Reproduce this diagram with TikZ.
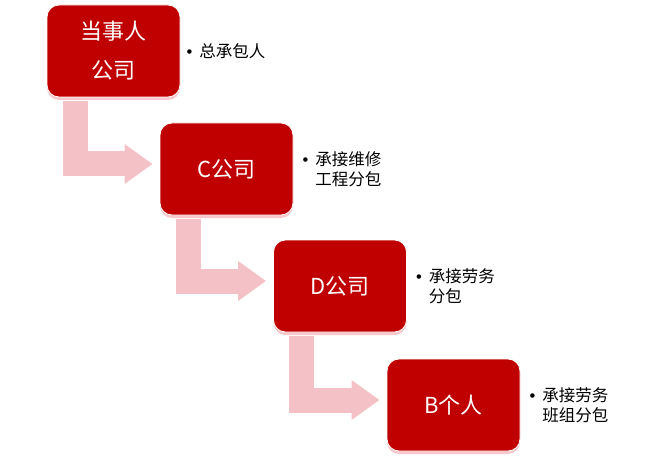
\documentclass[tikz,border=0pt]{standalone}
\usepackage{fontspec}
\setmainfont{Noto Sans CJK SC}
\newfontfamily\dotfont{Liberation Sans}
\usepackage{xcolor}
\usepackage{tikz}
\usetikzlibrary{arrows.meta,positioning,shadows}

\definecolor{boxred}{HTML}{C00000}
\definecolor{arrowpink}{HTML}{F4C1C6}
\definecolor{glowpink}{HTML}{F29AA3}

\newcommand{\dutydot}{{\dotfont\textbullet}\hspace{7pt}}

\tikzset{
  party/.style={draw=white, line width=0.8pt, fill=boxred, rounded corners=12pt,
    minimum width=133pt, minimum height=92pt, align=center, text=white,
    font=\fontsize{22}{39}\selectfont,
    drop shadow={shadow xshift=0pt, shadow yshift=-3pt, fill=glowpink, opacity=0.55}},
  duty/.style={align=left, inner sep=0pt, font=\fontsize{16.5}{20}\selectfont},
  hand/.style={draw=arrowpink, line width=25pt, line join=miter,
    -{Triangle[width=38pt 0, length=28pt 0]}}
}

\begin{document}
\begin{tikzpicture}[x=1pt, y=1pt]
  \useasboundingbox (0,0) rectangle (665,467);
  % the four parties, stepping down to the right
  \node[party] (dsr) at (113.5,416) {当事人\\公司};
  \node[party] (c) at (226.5,298) {C公司};
  \node[party] (d) at (340,181) {D公司};
  \node[party] (b) at (453.5,62) {B个人};
  % what each one takes on
  \node[duty, right=6pt of dsr] (dsrduty) {\dutydot 总承包人};
  \node[duty, right=9pt of c] (cduty) {\dutydot 承接维修\\\hphantom{\dutydot}工程分包};
  \node[duty, right=9pt of d] (dduty) {\dutydot 承接劳务\\\hphantom{\dutydot}分包};
  \node[duty, right=9pt of b] (bduty) {\dutydot 承接劳务\\\hphantom{\dutydot}班组分包};
  % bent arrows from each party down to the next
  \draw[hand] ([xshift=28.5pt, yshift=-4pt]dsr.south west) |- ([xshift=-7pt, yshift=5pt]c.west);
  \draw[hand] ([xshift=28.5pt, yshift=-4pt]c.south west) |- ([xshift=-7pt, yshift=5pt]d.west);
  \draw[hand] ([xshift=28.5pt, yshift=-4pt]d.south west) |- ([xshift=-7pt, yshift=5pt]b.west);
\end{tikzpicture}
\end{document}
